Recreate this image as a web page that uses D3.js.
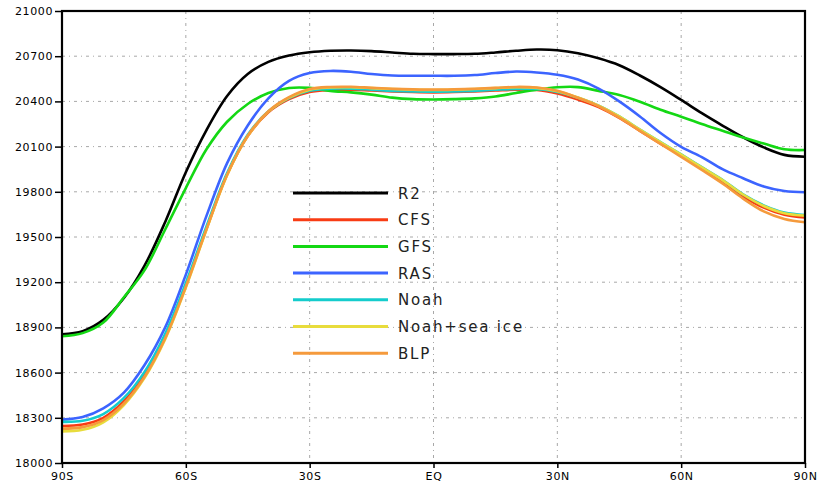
<!DOCTYPE html>
<html>
<head>
<meta charset="utf-8">
<script src="https://cdn.jsdelivr.net/npm/d3@7"></script>
<style>
  body { margin: 0; background: #fff; }
  svg { display: block; }
</style>
</head>
<body>
<div id="chart"></div>
<script>
// latitudes every 5 degrees, 90S -> 90N
const lats = [-90, -85, -80, -75, -70, -65, -60, -55, -50, -45, -40, -35, -30, -25, -20, -15, -10, -5,
    0, 5, 10, 15, 20, 25, 30, 35, 40, 45, 50, 55, 60, 65, 70, 75, 80, 85, 90];

const r2 = [18855, 18875, 18950, 19095, 19310, 19600, 19930, 20210, 20436, 20582, 20662, 20704, 20726, 20736, 20738, 20734, 20725, 20716,
    20714, 20714, 20716, 20725, 20736, 20744, 20740, 20720, 20686, 20640, 20572, 20495, 20410, 20322, 20240, 20162, 20095, 20045, 20033];
const cfs = [18246, 18255, 18300, 18410, 18585, 18840, 19180, 19555, 19915, 20170, 20328, 20415, 20462, 20476, 20478, 20472, 20466, 20462,
    20460, 20462, 20466, 20472, 20478, 20476, 20452, 20412, 20362, 20290, 20205, 20120, 20040, 19955, 19870, 19770, 19695, 19648, 19630];
const gfs = [18841, 18862, 18932, 19100, 19280, 19550, 19825, 20082, 20265, 20383, 20456, 20489, 20490, 20470, 20460, 20445, 20425, 20415,
    20413, 20415, 20420, 20432, 20456, 20478, 20494, 20495, 20470, 20442, 20398, 20345, 20298, 20250, 20205, 20160, 20120, 20082, 20077];
const ras = [18288, 18305, 18363, 18467, 18650, 18900, 19250, 19640, 19990, 20240, 20420, 20536, 20588, 20602, 20597, 20582, 20572, 20570,
    20570, 20570, 20575, 20588, 20598, 20592, 20577, 20545, 20485, 20400, 20300, 20190, 20098, 20030, 19950, 19890, 19835, 19805, 19797];
const noah = [18273, 18280, 18325, 18432, 18605, 18858, 19195, 19570, 19925, 20178, 20334, 20422, 20470, 20484, 20485, 20478, 20470, 20466,
    20465, 20466, 20470, 20477, 20483, 20482, 20462, 20424, 20372, 20300, 20213, 20130, 20048, 19964, 19880, 19783, 19710, 19662, 19646];
const noahIce = [18210, 18220, 18270, 18385, 18565, 18822, 19165, 19548, 19910, 20170, 20332, 20425, 20478, 20492, 20494, 20488, 20482, 20478,
    20476, 20478, 20482, 20488, 20494, 20490, 20468, 20426, 20372, 20300, 20212, 20128, 20046, 19962, 19878, 19782, 19706, 19658, 19642];
const blp = [18228, 18238, 18285, 18395, 18572, 18828, 19170, 19552, 19913, 20172, 20335, 20428, 20482, 20496, 20497, 20490, 20484, 20480,
    20478, 20480, 20484, 20490, 20496, 20492, 20470, 20424, 20368, 20292, 20205, 20118, 20032, 19945, 19855, 19755, 19670, 19620, 19598];

const seriesNames = ["R2", "CFS", "GFS", "RAS", "Noah", "Noah+sea ice", "BLP"];
const seriesValues = [r2, cfs, gfs, ras, noah, noahIce, blp];
const seriesColors = ["#000000", "#f83c14", "#14d814", "#3c64ff", "#14cccc", "#e8dc3c", "#f59a3c"];

const xTicks = [-90, -60, -30, 0, 30, 60, 90];
const xTickLabels = ["90S", "60S", "30S", "EQ", "30N", "60N", "90N"];
const yTicks = [18000, 18300, 18600, 18900, 19200, 19500, 19800, 20100, 20400, 20700, 21000];

const svg = d3.select("#chart").append("svg")
    .attr("width", 819)
    .attr("height", 487);

const margin = { top: 11, right: 14, bottom: 24, left: 62 },
    width = 819 - margin.left - margin.right,
    height = 487 - margin.top - margin.bottom;

const g = svg.append("g").attr("transform", `translate(${margin.left},${margin.top})`);

const x = d3.scaleLinear().domain([-90, 90]).range([0, width]);
const y = d3.scaleLinear().domain([18000, 21000]).range([height, 0]);

// grid lines (GrADS style dash-dot)
g.append("g")
    .selectAll("line")
    .data(yTicks.slice(1, -1))
    .join("line")
    .attr("x1", 0).attr("x2", width)
    .attr("y1", d => y(d)).attr("y2", d => y(d))
    .attr("stroke", "#a8a8a8")
    .attr("stroke-width", 1)
    .attr("stroke-dasharray", "3,4,1,4");

g.append("g")
    .selectAll("line")
    .data(xTicks.slice(1, -1))
    .join("line")
    .attr("x1", d => x(d)).attr("x2", d => x(d))
    .attr("y1", 0).attr("y2", height)
    .attr("stroke", "#a8a8a8")
    .attr("stroke-width", 1)
    .attr("stroke-dasharray", "3,4,1,4");

// curves, smoothed a bit like the original plot
const line = d3.line()
    .x((d, i) => x(lats[i]))
    .y(d => y(d))
    .curve(d3.curveCatmullRom.alpha(0.5));

seriesValues.forEach((vals, k) => {
    g.append("path")
        .datum(vals)
        .attr("fill", "none")
        .attr("stroke", seriesColors[k])
        .attr("stroke-width", 2.6)
        .attr("stroke-linejoin", "round")
        .attr("d", line);
});

// axes
const yAxis = g.append("g")
    .call(d3.axisLeft(y).tickValues(yTicks).tickSize(7).tickPadding(2).tickFormat(d3.format("d")));
const xAxis = g.append("g")
    .attr("transform", `translate(0,${height})`)
    .call(d3.axisBottom(x).tickValues(xTicks).tickSize(5).tickPadding(4).tickFormat((d, i) => xTickLabels[i]));

[yAxis, xAxis].forEach(a => {
    a.select(".domain").remove();
    a.selectAll(".tick line").attr("stroke", "#000").attr("stroke-width", 1.5);
    a.selectAll("text")
        .attr("fill", "#000")
        .style("font-family", "DejaVu Sans, sans-serif")
        .style("font-size", "11px")
        .style("letter-spacing", "0.6px");
});

// frame
g.append("rect")
    .attr("x", 0).attr("y", 0)
    .attr("width", width).attr("height", height)
    .attr("fill", "none")
    .attr("stroke", "#000")
    .attr("stroke-width", 2.2);

// legend inside the plot
const legend = svg.append("g").attr("transform", "translate(293,193)");
seriesNames.forEach((name, k) => {
    const row = legend.append("g").attr("transform", `translate(0,${k * 26.7})`);
    row.append("line")
        .attr("x1", 0).attr("x2", 95)
        .attr("y1", 0).attr("y2", 0)
        .attr("stroke", seriesColors[k])
        .attr("stroke-width", 3);
    row.append("text")
        .attr("x", 105)
        .attr("y", 5.5)
        .attr("fill", "#222")
        .style("font-family", "DejaVu Sans, sans-serif")
        .style("font-size", "15px")
        .style("letter-spacing", "1.8px")
        .text(name);
});
</script>
</body>
</html>
